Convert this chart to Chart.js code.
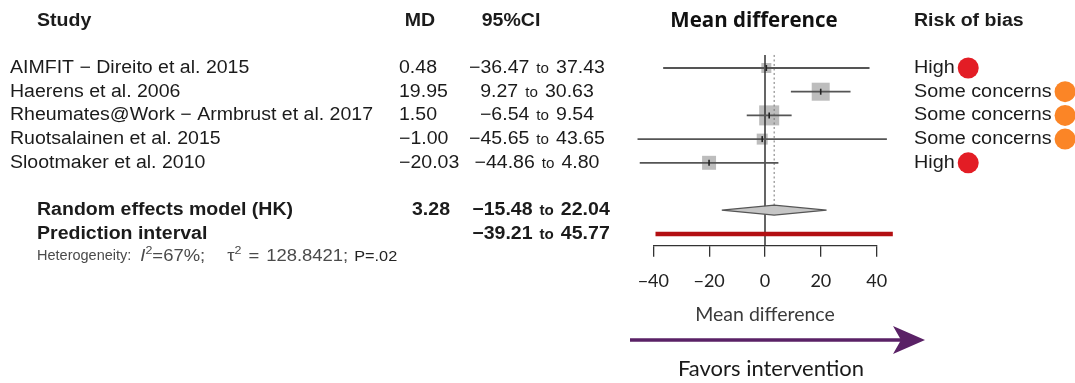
<!DOCTYPE html>
<html>
<head>
<meta charset="utf-8">
<script src="https://cdn.jsdelivr.net/npm/chart.js@4.4.1/dist/chart.umd.min.js"></script>
<style>
  html, body { margin: 0; padding: 0; background: #ffffff; }
  canvas { display: block; }
</style>
</head>
<body>
<canvas id="forest" width="1075" height="383"></canvas>
<script>
// ---- Meta-analysis data ----
const studies = [
  'AIMFIT \u2212 Direito et al. 2015',
  'Haerens et al. 2006',
  'Rheumates@Work \u2212 Armbrust et al. 2017',
  'Ruotsalainen et al. 2015',
  'Slootmaker et al. 2010'
];
const meanDiff = [0.48, 19.95, 1.50, -1.00, -20.03];
const ciLower  = [-36.47, 9.27, -6.54, -45.65, -44.86];
const ciUpper  = [37.43, 30.63, 9.54, 43.65, 4.80];
const weights  = [8.8, 28.4, 35.1, 10.6, 17.1];   // random-effects weights, %
const riskOfBias = ['High', 'Some concerns', 'Some concerns', 'Some concerns', 'High'];

const pooledMD = 3.28;
const pooledLower = -15.48;
const pooledUpper = 22.04;
const predLower = -39.21;
const predUpper = 45.77;

const xTicks = [-40, -20, 0, 20, 40];
const heterogeneity = { i2: '67%', tau2: '128.8421', p: '.02' };

// ---- Layout rows (y scale units) ----
const studyRows = studies.map((_, i) => i + 1);
const POOLED_ROW = 7;
const PRED_ROW = 8;
const HEADER_ROW = -0.98;
const HET_ROW = 8.95;
const DIAMOND_HALF = 0.21;
const SQUARE_SCALE = 3.38;

const minus = s => s.replace(/-/g, '\u2212');
const fmt = v => minus(v.toFixed(2));

const SANS = '"Liberation Sans", Arial, sans-serif';
const TEXT = '#1b1b1b';
const SX = 1.085;   // horizontal stretch of the table lettering

// ---- Datasets ----
const ciLines = studies.map((s, i) => ({
  label: s,
  data: [{ x: ciLower[i], y: studyRows[i] }, { x: ciUpper[i], y: studyRows[i] }],
  showLine: true, borderColor: '#555555', borderWidth: 1.8,
  pointRadius: 0, clip: false
}));

const datasets = [
  {
    label: 'estimate',
    data: meanDiff.map((v, i) => ({ x: v, y: studyRows[i] })),
    pointStyle: 'line', rotation: 90, pointRadius: 3,
    borderColor: '#222222', borderWidth: 1.6, clip: false
  },
  ...ciLines,
  {
    label: 'prediction interval',
    data: [{ x: predLower, y: PRED_ROW }, { x: predUpper, y: PRED_ROW }],
    showLine: true, borderColor: '#b30f12', borderWidth: 4.5,
    pointRadius: 0, clip: false, borderCapStyle: 'butt'
  },
  {
    label: 'pooled',
    data: [
      { x: pooledLower, y: POOLED_ROW },
      { x: pooledMD, y: POOLED_ROW - DIAMOND_HALF },
      { x: pooledUpper, y: POOLED_ROW },
      { x: pooledMD, y: POOLED_ROW + DIAMOND_HALF },
      { x: pooledLower, y: POOLED_ROW }
    ],
    showLine: true, fill: 'shape', backgroundColor: '#c6c6c6',
    borderColor: '#555555', borderWidth: 1.2, pointRadius: 0, tension: 0, clip: false
  },
  {
    label: 'zero',
    data: [{ x: 0, y: 0.45 }, { x: 0, y: 8.5 }],
    showLine: true, borderColor: '#333333', borderWidth: 1.5, pointRadius: 0, clip: false
  },
  {
    label: 'pooled line',
    data: [{ x: pooledMD, y: 0.45 }, { x: pooledMD, y: POOLED_ROW - DIAMOND_HALF }],
    showLine: true, borderColor: '#777777', borderWidth: 1, borderDash: [2, 2.5],
    pointRadius: 0, clip: false
  },
  {
    label: 'weights',
    data: meanDiff.map((v, i) => ({ x: v, y: studyRows[i] })),
    pointStyle: 'rect',
    pointRadius: weights.map(w => SQUARE_SCALE * Math.sqrt(w) / (2 * Math.SQRT1_2)),
    backgroundColor: '#bdbdbd', borderWidth: 0, clip: false
  }
];

// ---- Table columns, headers and annotations ----
const tablePlugin = {
  id: 'forestTable',
  afterDraw(chart) {
    const ctx = chart.ctx;
    const ys = chart.scales.y;
    const xs = chart.scales.x;
    const py = v => ys.getPixelForValue(v);

    const width = (s, font, sx) => { ctx.font = font; return ctx.measureText(s).width * (sx || 1); };
    const text = (s, x, y, font, color, align, sx) => {
      sx = sx || 1;
      const w = width(s, font, sx);
      let x0 = x;
      if (align === 'center') x0 = x - w / 2;
      else if (align === 'right') x0 = x - w;
      ctx.save();
      ctx.font = font;
      ctx.fillStyle = color || TEXT;
      ctx.textAlign = 'left';
      ctx.textBaseline = 'middle';
      ctx.translate(x0, y);
      ctx.scale(sx, 1);
      ctx.fillText(s, 0, 0);
      ctx.restore();
      return w;
    };

    // headers
    const hy = py(HEADER_ROW);
    const headFont = 'bold 18px ' + SANS;
    text('Study', 37, hy, headFont, TEXT, 'left', SX);
    text('MD', 420, hy, headFont, TEXT, 'center', SX);
    text('95%CI', 511, hy, headFont, TEXT, 'center', SX);
    text('Mean difference', 754, hy, 'bold 20.5px "Open Sans", sans-serif', '#111', 'center');
    text('Risk of bias', 914, hy, headFont, TEXT, 'left', SX);

    // interval text: "lower to upper", centred
    const drawCI = (lo, hi, cx, y, bold) => {
      const big = (bold ? 'bold ' : '') + '18px ' + SANS;
      const small = (bold ? 'bold ' : '') + '14px ' + SANS;
      const a = fmt(lo), b = fmt(hi), gap = 7;
      const wa = width(a, big, SX), wt = width('to', small, SX), wb = width(b, big, SX);
      let x = cx - (wa + wt + wb + 2 * gap) / 2;
      text(a, x, y, big, TEXT, 'left', SX); x += wa + gap;
      text('to', x, y + 1, small, TEXT, 'left', SX); x += wt + gap;
      text(b, x, y, big, TEXT, 'left', SX);
    };

    // study rows
    const rowFont = '18px ' + SANS;
    studies.forEach((s, i) => {
      const y = py(studyRows[i]);
      text(s, 10, y, rowFont, TEXT, 'left', SX);
      text(fmt(meanDiff[i]), 399, y, rowFont, TEXT, 'left', SX);
      drawCI(ciLower[i], ciUpper[i], 537, y, false);

      // risk of bias
      const wl = text(riskOfBias[i], 914, y, rowFont, TEXT, 'left', 1.1);
      const r = 10.5;
      const cx = 914 + wl + 3 + r;
      ctx.beginPath();
      ctx.arc(cx, y, r, 0, Math.PI * 2);
      ctx.fillStyle = riskOfBias[i] === 'High' ? '#e31d25' : '#fb8526';
      ctx.fill();
    });

    // pooled rows
    const boldFont = 'bold 18px ' + SANS;
    text('Random effects model (HK)', 37, py(POOLED_ROW), boldFont, TEXT, 'left', SX);
    text(fmt(pooledMD), 450, py(POOLED_ROW), boldFont, TEXT, 'right', SX);
    drawCI(pooledLower, pooledUpper, 541, py(POOLED_ROW), true);
    text('Prediction interval', 37, py(PRED_ROW), boldFont, TEXT, 'left', SX);
    drawCI(predLower, predUpper, 541, py(PRED_ROW), true);

    // heterogeneity line
    const hyy = py(HET_ROW);
    const grey = '#4a4a4a';
    const hf = '14.5px ' + SANS, sf = '17px ' + SANS, hsup = '11.5px ' + SANS, hit = 'italic 17px ' + SANS;
    let x = 37;
    const piece = (s, font, dy, color, sx) => {
      x += text(s, x, hyy + (dy || 0), font, color || grey, 'left', sx || SX);
    };
    piece('Heterogeneity:', hf, 0, grey, 1);
    x += 9;
    piece('I', hit);
    piece('2', hsup, -6);
    piece('=' + heterogeneity.i2 + ';', sf);
    x += 22;
    piece('\u03c4', sf);
    piece('2', hsup, -6);
    x += 7;
    piece('=', sf);
    x += 7;
    piece(heterogeneity.tau2 + ';', sf);
    x += 6;
    piece('P=' + heterogeneity.p, '15px ' + SANS, 0, '#222');

    // x-axis title
    text('Mean difference', xs.getPixelForValue(0), chart.chartArea.bottom + 69,
         '19.5px Lato, sans-serif', '#3a3a3a', 'center');

    // direction arrow
    const ay = 340;
    ctx.strokeStyle = '#5a2166';
    ctx.lineWidth = 3.5;
    ctx.beginPath();
    ctx.moveTo(630, ay);
    ctx.lineTo(902, ay);
    ctx.stroke();
    ctx.fillStyle = '#5a2166';
    ctx.beginPath();
    ctx.moveTo(925, ay);
    ctx.lineTo(893, ay - 14);
    ctx.lineTo(901, ay);
    ctx.lineTo(893, ay + 14);
    ctx.closePath();
    ctx.fill();
    text('Favors intervention', 771, 369, '22px Lato, sans-serif', '#1a1a1a', 'center');
  }
};

new Chart(document.getElementById('forest'), {
  type: 'scatter',
  data: { datasets },
  options: {
    responsive: false,
    animation: false,
    events: [],
    layout: { padding: { left: 653.3, right: 198.3, top: 44.3, bottom: 0 } },
    plugins: { legend: { display: false }, tooltip: { enabled: false } },
    scales: {
      x: {
        type: 'linear', position: 'bottom', min: -40, max: 40,
        afterBuildTicks: s => { s.ticks = xTicks.map(v => ({ value: v })); },
        afterFit: s => { s.height = 137.25; },
        ticks: {
          callback: v => minus(String(v)),
          font: { family: 'Lato', size: 18 }, color: '#222', padding: 14,
          maxRotation: 0, autoSkip: false
        },
        grid: { drawOnChartArea: false, drawTicks: true, tickLength: 11, color: '#333', lineWidth: 1.3 },
        border: { display: true, color: '#333', width: 1.3 }
      },
      y: { type: 'linear', min: 0, max: 8.5, reverse: true, display: false }
    }
  },
  plugins: [tablePlugin]
});
</script>
</body>
</html>
